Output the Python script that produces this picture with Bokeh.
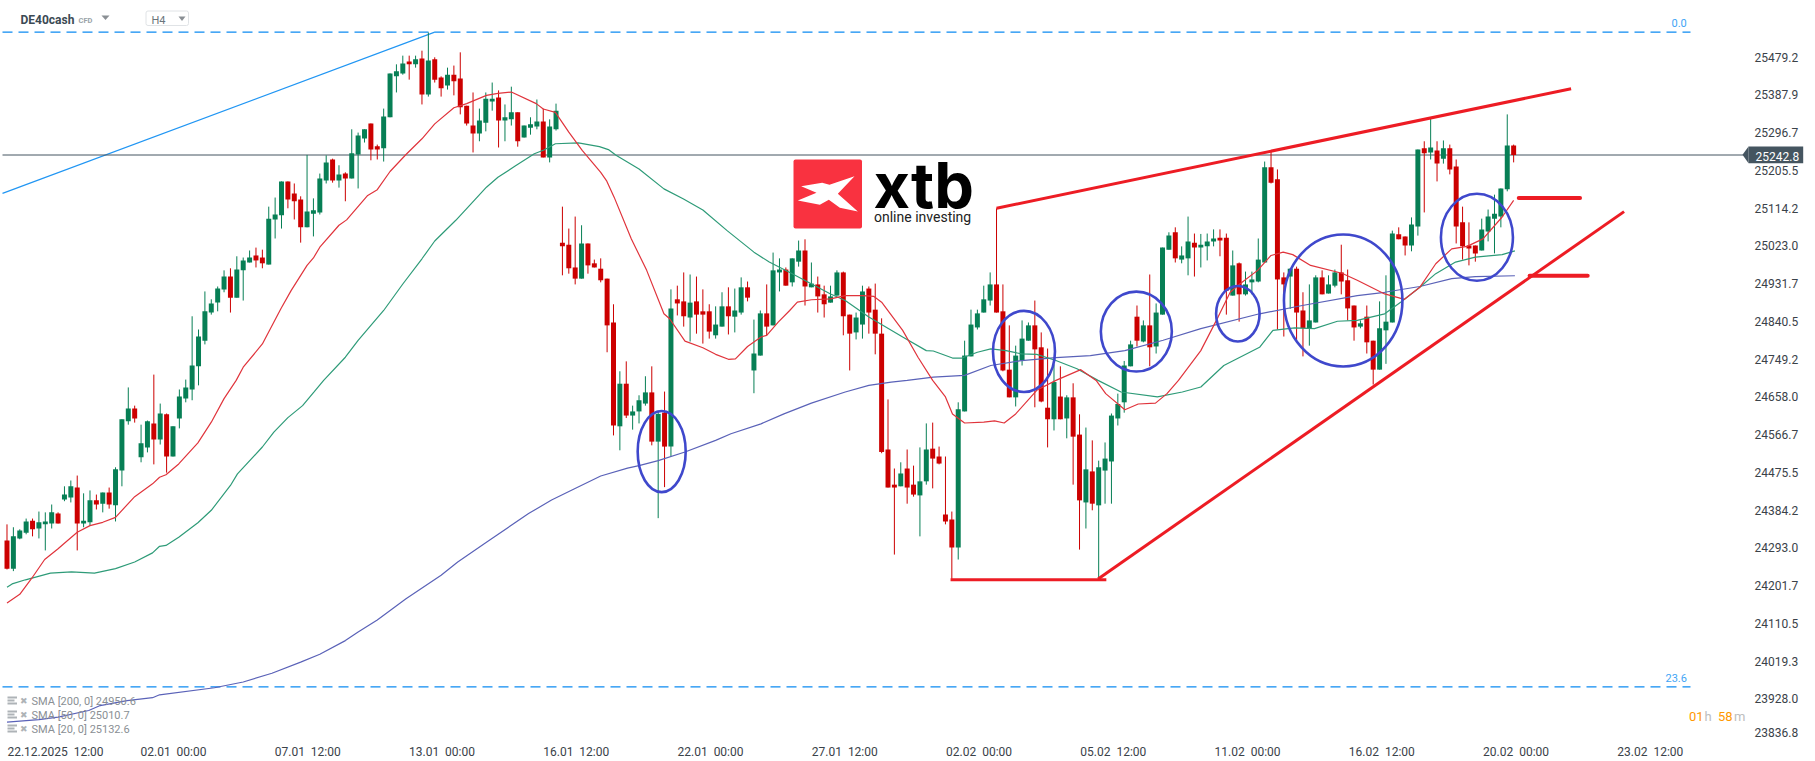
from bokeh.plotting import figure
from bokeh.models import Range1d, FixedTicker, Label
from bokeh.embed import file_html
from bokeh.resources import INLINE
import numpy as np

# ---- OHLC (H4 bars) ----
opens = [24311,24243,24316,24330,24359,24340,24350,24352,24376,24410,24415,24439,24352,24355,24408,24400,24427,24396,24480,24599,
24630,24512,24536,24594,24555,24616,24514,24606,24654,24676,24732,24794,24862,24886,24918,24949,24898,24964,24983,25000,
24995,24978,25087,25097,25179,25150,25135,25068,25101,25104,25181,25232,25181,25198,25186,25244,25283,25319,25264,25259,
25334,25433,25440,25469,25462,25476,25389,25474,25430,25411,25437,25428,25362,25314,25295,25321,25372,25382,25326,25329,
25346,25285,25309,25312,25324,25237,25305,25031,25026,24971,24944,25029,24981,24968,24944,24838,24587,24690,24613,24623,
24642,24669,24550,24620,24538,24894,24889,24850,24889,24865,24865,24807,24828,24877,24852,24862,24923,24722,24758,24860,
24831,24959,24966,24935,24985,25012,24923,24930,24906,24886,24903,24959,24857,24814,24833,24920,24869,24811,24531,24446,
24442,24485,24446,24420,24454,24533,24514,24374,24362,24294,24623,24756,24826,24862,24891,24930,24865,24724,24657,24746,
24794,24831,24778,24632,24604,24659,24606,24657,24567,24403,24478,24396,24480,24502,24606,24645,24732,24852,24792,24831,
24780,24857,25014,25056,24990,24993,25031,25019,25022,25034,25043,25043,24903,24981,24906,24935,24937,24983,25213,25184,
24947,24949,24968,24867,24824,24838,24947,24908,24927,24959,24940,24879,24828,24852,24794,24724,24819,24838,25051,25046,
25024,25070,25259,25249,25254,25234,25259,25215,25080,25024,25024,25012,25058,25089,25094,25160,25266]
highs = [24350,24343,24338,24364,24364,24381,24379,24398,24379,24442,24456,24468,24425,24432,24422,24427,24439,24488,24604,24681,
24637,24591,24601,24712,24642,24618,24587,24676,24700,24853,24821,24913,24894,24925,24964,24969,24998,24995,25012,25019,
25014,25118,25140,25179,25179,25174,25143,25243,25138,25198,25242,25234,25218,25201,25305,25297,25305,25319,25268,25355,
25440,25462,25483,25483,25483,25495,25539,25479,25433,25454,25459,25491,25362,25394,25355,25394,25418,25399,25365,25408,
25346,25314,25334,25377,25355,25329,25367,25118,25065,25094,25073,25029,24990,24993,24944,24882,24720,24744,24637,24662,
24708,24732,24625,24671,24918,24927,24959,24954,24949,24918,24882,24877,24911,24923,24920,24947,24937,24845,24867,24930,
25007,24993,24971,24993,25036,25039,24983,24949,24927,24927,24964,24961,24857,24862,24927,24925,24932,24848,24652,24485,
24500,24531,24492,24536,24594,24596,24538,24514,24381,24645,24794,24869,24869,24927,24959,25114,24930,24831,24782,24843,
24838,24891,24814,24775,24737,24732,24662,24691,24616,24584,24553,24504,24548,24618,24666,24745,24794,24879,24843,24954,
24884,25019,25056,25068,25022,25094,25053,25052,25053,25063,25063,25053,25012,24983,24961,24961,25041,25227,25251,25208,
24959,24969,24973,24911,24930,24952,24964,24952,24966,25026,24966,24879,24843,24879,24794,24889,24952,25060,25068,25046,
25092,25256,25276,25331,25276,25278,25268,25232,25118,25080,25024,25089,25111,25147,25162,25341,25268]
lows = [24241,24237,24314,24326,24321,24316,24287,24340,24352,24406,24403,24287,24343,24347,24386,24379,24388,24357,24442,24591,
24596,24500,24524,24495,24543,24475,24514,24582,24645,24650,24686,24785,24857,24865,24911,24862,24898,24891,24983,24971,
24969,24978,25041,25065,25114,25087,25031,25068,25046,25099,25174,25176,25164,25131,25186,25162,25273,25230,25232,25227,
25334,25394,25437,25425,25454,25365,25384,25418,25384,25401,25387,25341,25314,25249,25276,25300,25350,25261,25276,25314,
25263,25285,25292,25305,25237,25225,25302,24952,24956,24930,24944,24956,24971,24935,24766,24565,24529,24607,24579,24594,
24637,24541,24365,24440,24514,24855,24828,24792,24811,24787,24799,24799,24828,24809,24814,24857,24889,24667,24758,24807,
24831,24913,24927,24925,24973,24879,24923,24862,24850,24886,24903,24807,24722,24797,24799,24811,24761,24522,24439,24277,
24442,24400,24417,24321,24446,24437,24495,24350,24217,24265,24623,24756,24821,24862,24879,24862,24720,24657,24635,24734,
24794,24633,24645,24536,24577,24604,24558,24446,24289,24340,24384,24217,24400,24400,24589,24620,24732,24780,24790,24732,
24763,24857,25014,24983,24981,24952,24949,24971,24988,25022,24998,24857,24903,24840,24903,24906,24935,24983,25174,24821,
24804,24871,24794,24756,24782,24838,24906,24908,24923,24906,24843,24794,24824,24763,24688,24724,24738,24838,25039,25000,
25010,25048,25104,25232,25179,25222,25196,25029,24990,24976,24985,25012,25034,25005,25068,25155,25225]
closes = [24243,24321,24335,24357,24338,24355,24357,24379,24352,24422,24442,24352,24359,24408,24398,24427,24398,24483,24604,24630,
24606,24546,24599,24555,24618,24514,24587,24659,24681,24734,24804,24865,24884,24920,24949,24898,24966,24988,24995,24988,
24981,25089,25099,25179,25135,25131,25068,25106,25109,25186,25225,25181,25196,25186,25247,25290,25305,25256,25256,25336,
25440,25445,25464,25462,25474,25389,25471,25425,25404,25437,25421,25358,25319,25295,25326,25379,25379,25326,25334,25346,
25276,25314,25317,25324,25237,25312,25350,25022,24969,24944,25029,24976,24971,24940,24831,24589,24690,24613,24623,24650,
24669,24550,24617,24538,24872,24884,24853,24886,24857,24857,24816,24833,24877,24853,24867,24923,24898,24763,24860,24828,
24964,24966,24927,24993,25012,24925,24932,24901,24882,24901,24959,24853,24811,24850,24913,24862,24811,24525,24439,24439,
24473,24439,24422,24454,24531,24509,24497,24357,24294,24628,24758,24833,24860,24894,24930,24862,24722,24657,24758,24799,
24831,24773,24647,24604,24694,24604,24657,24562,24408,24483,24400,24488,24509,24613,24641,24734,24785,24794,24831,24778,
24862,25019,25048,24993,25000,25034,25019,25026,25034,25041,25036,24915,24976,24906,24930,24942,24990,25213,25176,24942,
24930,24968,24862,24824,24843,24947,24906,24930,24959,24937,24872,24826,24836,24790,24724,24824,24840,25053,25039,25024,
25075,25256,25247,25261,25222,25259,25208,25070,25022,25017,25005,25063,25094,25101,25162,25266,25243]

# ---- moving averages, read at bar positions along each curve ----
sma20_x = [0,2,3.8,5.9,8,8.9,11,13,15,17,20,22.8,23.9,24.9,26.9,29.9,32,34,35.9,37,40,42.9,44.5,47,48,49,52,53.2,56.5,58,60,62.5,65,67,70,72,75.1,76.9,79,82.9,84,85.9,88,90.1,93,93.9,95.1,97.8,100.2,102.9,103.8,106.2,109,111,113,114.1,116,118.1,119,120.8,122.6,123.8,126,129,131.3,134,135.8,137,140.3,142.7,145,147,148.1,150,153,154.7,156.2,158,161.3,164.3,168.2,170.6,172.1,175.1,177.2,179.9,181.7,183.5,187,189.7,191.6,193.1,195.9,198,199.9,201.4,204.2,209.1,211.5,215.8,218.9,221.3,223.8,226.3,228.7,231.2,234.2,236]
sma20_y = [24160,24181,24218,24265,24291,24303,24331,24347,24355,24367,24417,24448,24464,24470,24496,24547,24597,24654,24698,24730,24786,24871,24915,24976,24994,25020,25073,25086,25145,25159,25203,25244,25282,25318,25357,25367,25387,25392,25395,25367,25354,25346,25298,25254,25201,25181,25141,25040,24964,24859,24847,24793,24777,24761,24749,24750,24780,24803,24807,24839,24867,24887,24893,24895,24903,24903,24901,24887,24819,24754,24698,24658,24617,24595,24597,24600,24595,24617,24674,24698,24724,24698,24666,24627,24641,24643,24666,24698,24770,24851,24911,24931,24964,25000,25008,25002,24976,24957,24940,24907,24894,24923,24980,25016,25022,25040,25093,25133]
sma50_x = [0,0.8,2.9,6.8,10.1,13.7,17,20,22.8,23.9,24.9,26.9,29.9,32,35,36.1,40,41.8,44,46.3,48.1,49.6,53,55,59,62,65,67,70.3,73.3,75.1,76.9,79.6,82.6,84.1,85.9,89.5,92.8,94.2,95.4,99,102.9,105.9,109,112.8,117,119.4,123,129,131.3,135,140.3,144,145.1,148.1,149.6,152,154.1,156.5,158.9,161.3,164.3,167.6,170.9,174.5,180.2,184.1,187,190.6,196.2,198.3,201.7,204.8,208.4,211.5,215.8,218.3,221.3,223.8,226.9,230,234.2,236.2]
sma50_y = [24198,24206,24216,24232,24235,24232,24243,24259,24281,24297,24299,24319,24354,24384,24444,24472,24537,24573,24608,24637,24670,24698,24754,24795,24867,24931,24992,25035,25085,25135,25165,25189,25216,25246,25255,25270,25272,25263,25256,25242,25209,25161,25137,25110,25060,25008,24984,24956,24907,24891,24851,24803,24770,24769,24752,24752,24766,24774,24770,24762,24761,24746,24726,24698,24670,24658,24670,24682,24734,24778,24819,24825,24823,24841,24843,24859,24887,24923,24956,24984,24996,25002,25011]
sma200_x = [0,5,8,12.8,14.6,18.8,22.8,23.9,32.5,37,41.5,46,49,53,55,58,62.5,68,70.6,75.1,81.7,85.3,88.9,93,97.2,99,102,106.2,111,113.4,118.1,121.7,126,131.3,135,138.5,141,145.1,150,154.1,158.9,164.3,169.7,175.1,181.1,187,196.2,202.9,211.5,215.8,221.3,226.3,230,236.2]
sma200_y = [23872,23878,23884,23900,23912,23924,23931,23938,23955,23969,23990,24017,24036,24069,24090,24119,24170,24227,24259,24307,24376,24409,24436,24467,24486,24492,24504,24525,24553,24569,24593,24617,24643,24670,24686,24694,24698,24706,24710,24734,24746,24753,24758,24770,24795,24823,24859,24879,24903,24911,24925,24944,24949,24951]

# ---- axes ----
y_ticks = [25479.2,25387.9,25296.7,25205.5,25114.2,25023.0,24931.7,24840.5,24749.2,24658.0,24566.7,24475.5,24384.2,24293.0,24201.7,24110.5,24019.3,23928.0]
x_tick_pos = [7.6,26.08,47.11,68.14,89.17,110.2,131.23,152.26,173.29,194.32,215.35,236.38,257.41]
x_tick_labels = ["22.12.2025\u00a0\u00a012:00","02.01\u00a0\u00a000:00","07.01\u00a0\u00a012:00","13.01\u00a0\u00a000:00","16.01\u00a0\u00a012:00","22.01\u00a0\u00a000:00","27.01\u00a0\u00a012:00","02.02\u00a0\u00a000:00","05.02\u00a0\u00a012:00","11.02\u00a0\u00a000:00","16.02\u00a0\u00a012:00","20.02\u00a0\u00a000:00","23.02\u00a0\u00a012:00"]

# ---- price levels and hand-drawn annotations ----
last_price = 25242.8
fib_0 = 25540
fib_236 = 23957
ellipse_x = [102.55,159.3,176.9,192.8,209.3,230.25]
ellipse_y = [24526,24768,24816,24859,24891,25044]
ellipse_w = [7.52,9.71,11.12,6.81,18.56,11.28]
ellipse_h = [196,196,193,134,319,210]
trend_x0 = [155,147.8,170.9,236.8,238.5]
trend_y0 = [25114,24216,24218,25139,24951]
trend_x1 = [245,172.2,253.3,246.4,247.6]
trend_y1 = [25403,24216,25106,25139,24951]

GREEN, RED = "#077f55", "#cc0000"
X0, X1 = -1.018, 282.03
Y0, Y1 = 23834.8, 25616.3
FW, FH = 1807, 737

p = figure(width=1807, height=753, output_backend="svg", toolbar_location=None,
           x_range=Range1d(X0, X1), y_range=Range1d(Y0, Y1),
           y_axis_location="right", min_border_left=0, min_border_top=0,
           min_border_right=0, min_border_bottom=16,
           frame_width=FW, frame_height=FH, background_fill_color="white",
           border_fill_color="white", outline_line_color=None)
p.grid.visible = False

def px(v):   # page pixel -> x data
    return X0 + v * (X1 - X0) / FW
def py(v):   # page pixel -> y data
    return Y1 - v * (Y1 - Y0) / FH

ya = p.yaxis[0]
ya.fixed_location = px(1743)
ya.ticker = FixedTicker(ticks=y_ticks + [23847.0])
ya.major_label_overrides = {v: f"{v:.1f}" for v in y_ticks}
ya.major_label_overrides[23847.0] = "23836.8"
ya.axis_line_color = None
ya.major_tick_line_color = None
ya.minor_tick_line_color = None
ya.major_label_standoff = 5
ya.major_label_text_font = "Roboto"
ya.major_label_text_font_size = "12px"
ya.major_label_text_color = "#3a4249"

xa = p.xaxis[0]
xa.ticker = FixedTicker(ticks=x_tick_pos)
xa.major_label_overrides = dict(zip(x_tick_pos, x_tick_labels))
xa.axis_line_color = None
xa.major_tick_line_color = None
xa.minor_tick_line_color = None
xa.major_label_standoff = 1
xa.major_label_text_font = "Roboto"
xa.major_label_text_font_size = "12px"
xa.major_label_text_color = "#3a4249"

# logo
p.quad(left=[px(793)], right=[px(861.5)], top=[py(159)], bottom=[py(228)], fill_color="#f93240", line_color=None, border_radius=2)
star_px = [(62,107),(125,97),(147,103),(222,77),(172,130),(232,183),(178,172),(145,148),(118,163),(52,150),(108,127)]
p.patch([px(780 + a / 3) for a, b in star_px], [py(150 + b / 3) for a, b in star_px], fill_color="white", line_color=None)
p.add_layout(Label(x=px(873), y=py(184), text="xtb", text_font="Inter", text_font_style="bold", text_font_size="63px",
                   text_color="#000000", text_baseline="middle"))
p.add_layout(Label(x=px(873.5), y=py(216.5), text="online investing", text_font="Roboto", text_font_size="14px",
                   text_color="#222222", text_baseline="middle"))

# levels
for lvl in (fib_0, fib_236):
    p.line([px(2), px(1690)], [lvl, lvl], line_color="#0d8bf2", line_width=1.3, line_dash=[10, 6])
p.line([px(2), 67], [25150, fib_0], line_color="#2196f3", line_width=1.2)
p.line([px(2), px(1743)], [last_price, last_price], line_color="#455560", line_width=1)

# candles
x = np.arange(len(opens))
o, h, l, c = map(np.array, (opens, highs, lows, closes))
up = c >= o
for mask, col in ((up, GREEN), (~up, RED)):
    p.segment(x[mask], h[mask], x[mask], l[mask], line_color=col, line_width=1)
    p.vbar(x=x[mask], top=np.maximum(o, c)[mask], bottom=np.minimum(o, c)[mask], width=0.78,
           fill_color=col, line_color=None)

# moving averages
p.line(sma200_x, sma200_y, line_color="#5a62b8", line_width=1.2)
p.line(sma50_x, sma50_y, line_color="#2e9b78", line_width=1.2)
p.line(sma20_x, sma20_y, line_color="#e0343c", line_width=1.2)

# hand drawings
p.ellipse(x=ellipse_x, y=ellipse_y, width=ellipse_w, height=ellipse_h, fill_color=None,
          line_color="#3f48cc", line_width=2.6)
p.segment(trend_x0[:3], trend_y0[:3], trend_x1[:3], trend_y1[:3], line_color="#ed1c24", line_width=3)
p.segment(trend_x0[3:], trend_y0[3:], trend_x1[3:], trend_y1[3:], line_color="#ed1c24", line_width=4, line_cap="round")

# price badge
p.quad(left=[px(1748)], right=[px(1802.7)], top=[py(146)], bottom=[py(162.7)], fill_color="#455560", line_color=None)
p.patch([px(1742), px(1748), px(1748)], [py(154.3), py(146), py(162.7)], fill_color="#455560", line_color=None)
p.add_layout(Label(x=px(1755), y=py(155.5), text="25242.8", text_font="Roboto", text_font_size="12px",
                   text_color="white", text_baseline="middle"))

# header
def lab(xp, yp, text, size, color, style="normal", font="Roboto"):
    p.add_layout(Label(x=px(xp), y=py(yp), text=text, text_font=font, text_font_size=size, text_color=color,
                       text_font_style=style, text_baseline="middle"))
lab(20, 19.5, "DE40cash", "12px", "#3c4a54", "bold")
lab(78, 20, "CFD", "7.5px", "#9aa3a8", "bold")
p.patch([px(101), px(109), px(105)], [py(15), py(15), py(19.5)], fill_color="#8a8f94", line_color=None)
p.quad(left=[px(145.5)], right=[px(188)], top=[py(10.5)], bottom=[py(25)], fill_color="white", line_color="#e0e3e6", border_radius=2)
lab(151, 19.5, "H4", "11px", "#6b757c")
p.patch([px(178), px(185), px(181.5)], [py(16), py(16), py(20.5)], fill_color="#8a8f94", line_color=None)

# fib labels, countdown
lab(1671, 22, "0.0", "11px", "#42a5f5")
lab(1665, 677, "23.6", "11px", "#42a5f5")
lab(1688.5, 716, "01", "13px", "#ff9800")
lab(1704, 716, "h", "13px", "#bdbdbd")
lab(1717.5, 716, "58", "13px", "#ff9800")
lab(1733.5, 716, "m", "13px", "#bdbdbd")

# indicator legend
for yp, text in ((701, "SMA [200,\u00a00] 24950.6"), (715, "SMA [50,\u00a00] 25010.7"), (729, "SMA [20,\u00a00] 25132.6")):
    lab(31, yp, text, "11px", "#8a8f94")
    lab(19.5, yp - 1, "\u2716", "9px", "#aeb3b7", font="DejaVu Sans")
    for k, w in ((-4, 9.5), (-1, 7), (2, 9.5)):
        p.quad(left=[px(7)], right=[px(7 + w)], top=[py(yp + k - 1)], bottom=[py(yp + k + 1)], fill_color="#aeb3b7", line_color=None)

open("out.html", "w").write(file_html(p, INLINE))
